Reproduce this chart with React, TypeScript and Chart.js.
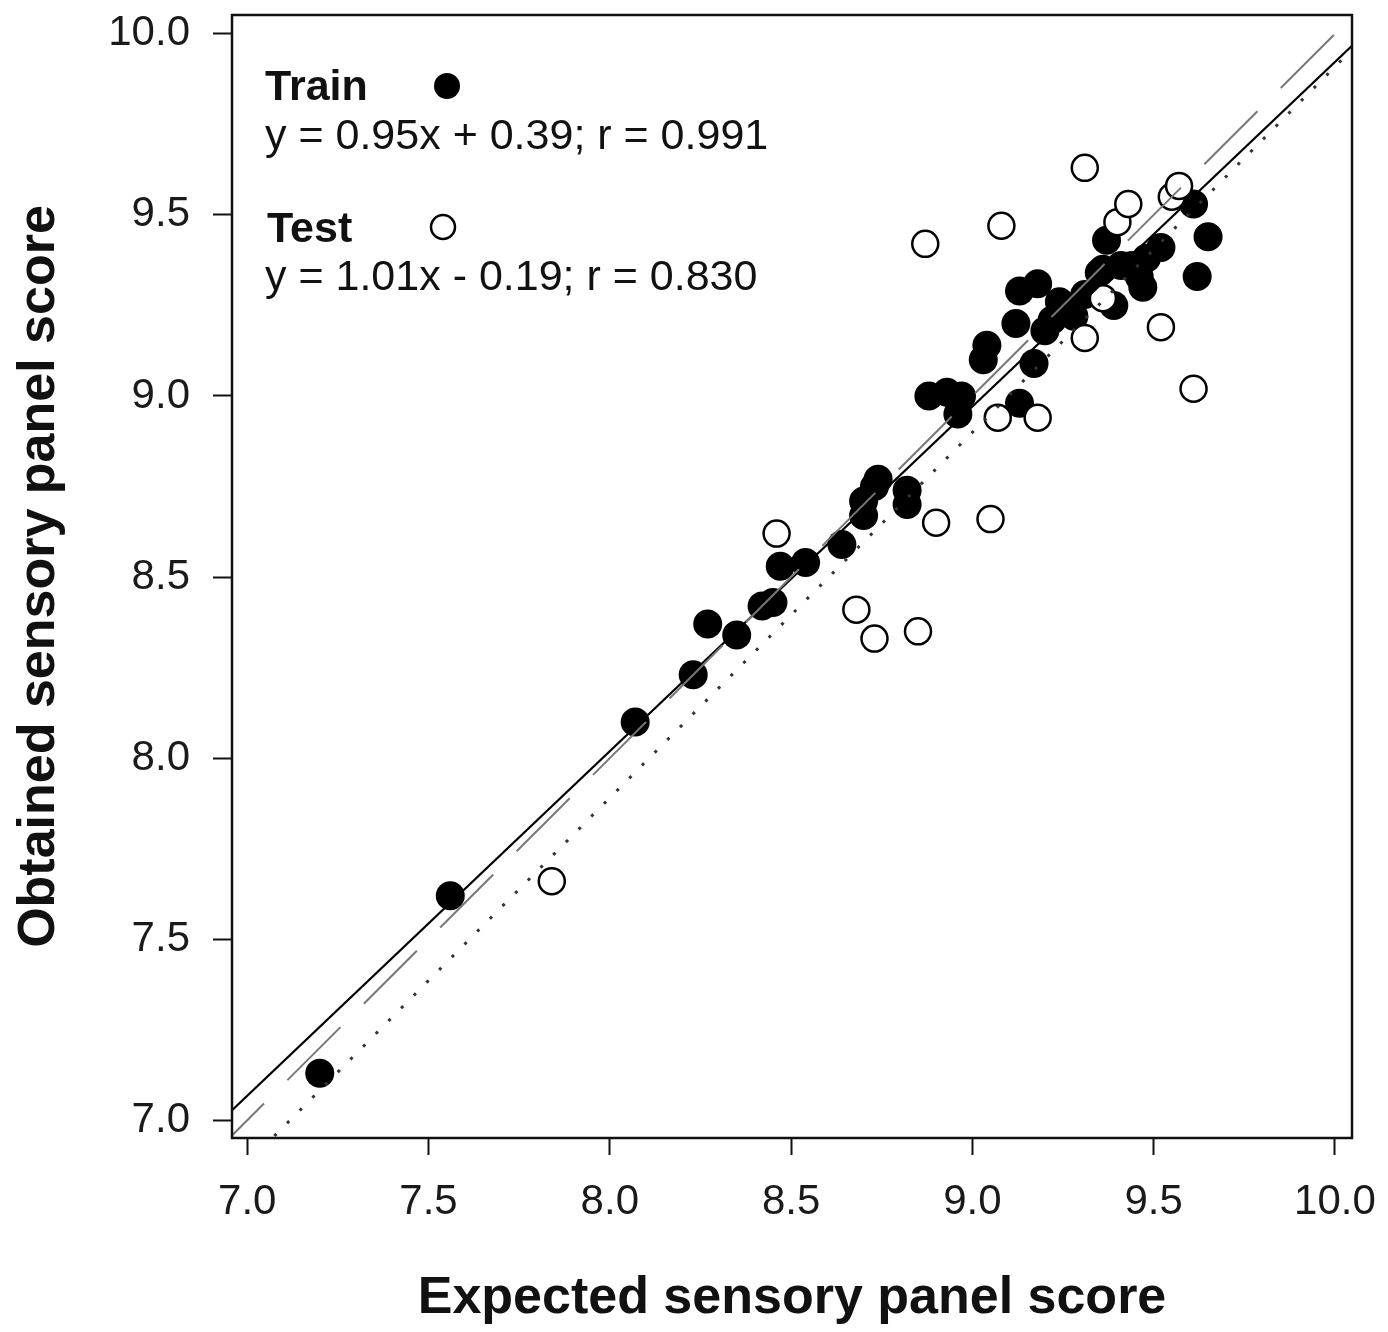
import React, { useEffect, useRef } from "react";
import { Chart, registerables } from "chart.js";

Chart.register(...registerables);

// ---- data ----
const trainX = [7.20, 7.56, 8.07, 8.23, 8.27, 8.35, 8.42, 8.45, 8.47, 8.54, 8.64, 8.70, 8.70, 8.73, 8.74, 8.82, 8.82, 8.88, 8.93, 8.97, 8.96, 9.03, 9.04, 9.13, 9.17, 9.12, 9.13, 9.18, 9.20, 9.22, 9.24, 9.26, 9.28, 9.31, 9.35, 9.36, 9.37, 9.39, 9.41, 9.44, 9.47, 9.46, 9.48, 9.52, 9.61, 9.65, 9.62];
const trainY = [7.13, 7.62, 8.10, 8.23, 8.37, 8.34, 8.42, 8.43, 8.53, 8.54, 8.59, 8.67, 8.71, 8.75, 8.77, 8.74, 8.70, 9.00, 9.01, 9.00, 8.95, 9.10, 9.14, 8.98, 9.09, 9.20, 9.29, 9.31, 9.18, 9.21, 9.26, 9.23, 9.22, 9.28, 9.34, 9.35, 9.43, 9.25, 9.36, 9.36, 9.30, 9.33, 9.38, 9.41, 9.53, 9.44, 9.33];

const testX = [7.84, 8.46, 8.68, 8.73, 8.85, 8.90, 9.05, 8.87, 9.08, 9.07, 9.18, 9.31, 9.31, 9.36, 9.40, 9.43, 9.52, 9.55, 9.57, 9.61];
const testY = [7.66, 8.62, 8.41, 8.33, 8.35, 8.65, 8.66, 9.42, 9.47, 8.94, 8.94, 9.63, 9.16, 9.27, 9.48, 9.53, 9.19, 9.55, 9.58, 9.02];

// fitted / reference lines (end points)
const trainFitX = [6.95, 10.05];
const trainFitY = [7.02, 9.97];
const identityX = [6.9, 10.1];
const identityY = [6.9, 10.1];
const testFitX = [6.9, 10.1];
const testFitY = [6.78, 10.01];

const xTicks = [7.0, 7.5, 8.0, 8.5, 9.0, 9.5, 10.0];
const yTicks = [7.0, 7.5, 8.0, 8.5, 9.0, 9.5, 10.0];
const xRange = [6.958, 10.047];
const yRange = [6.951, 10.052];

const legendNames = ["Train", "Test"];
const legendEquations = ["y = 0.95x + 0.39; r = 0.991", "y = 1.01x - 0.19; r = 0.830"];
const xTitle = "Expected sensory panel score";
const yTitle = "Obtained sensory panel score";

const FONT = "'Liberation Sans', Arial, Helvetica, sans-serif";

const toPoints = (xs: number[], ys: number[]) => xs.map((x, i) => ({ x, y: ys[i] }));

const framePlugin = {
  id: "frameAndLegend",
  afterDraw(chart: any) {
    const { ctx, chartArea } = chart;
    const { left, top, right, bottom } = chartArea;
    ctx.save();
    ctx.strokeStyle = "#111";
    ctx.lineWidth = 2.5;
    ctx.strokeRect(left, top, right - left, bottom - top);

    // legend / annotation block
    const tx = left + 33;
    ctx.fillStyle = "#111";
    ctx.textBaseline = "alphabetic";
    ctx.textAlign = "left";
    ctx.font = `bold 43px ${FONT}`;
    ctx.fillText(legendNames[0], tx, top + 85);
    ctx.font = `43px ${FONT}`;
    ctx.fillText(legendEquations[0], tx, top + 134);
    ctx.font = `bold 43px ${FONT}`;
    ctx.fillText(legendNames[1], tx + 2, top + 227);
    ctx.font = `43px ${FONT}`;
    ctx.fillText(legendEquations[1], tx, top + 275);

    // markers
    ctx.beginPath();
    ctx.arc(left + 215, top + 71, 13, 0, Math.PI * 2);
    ctx.fillStyle = "#000";
    ctx.fill();
    ctx.beginPath();
    ctx.arc(left + 211, top + 212, 12, 0, Math.PI * 2);
    ctx.fillStyle = "#fff";
    ctx.fill();
    ctx.lineWidth = 2.5;
    ctx.strokeStyle = "#000";
    ctx.stroke();
    ctx.restore();
  },
};

export default function App() {
  const ref = useRef<HTMLCanvasElement | null>(null);

  useEffect(() => {
    if (!ref.current) return;
    const chart = new Chart(ref.current, {
      type: "scatter",
      data: {
        datasets: [
          {
            label: "1:1",
            data: toPoints(identityX, identityY),
            showLine: true,
            pointRadius: 0,
            borderColor: "#777",
            borderWidth: 2,
            borderDash: [75, 33],
          },
          {
            label: "Test fit",
            data: toPoints(testFitX, testFitY),
            showLine: true,
            pointRadius: 0,
            borderColor: "#333",
            borderWidth: 3,
            borderDash: [3, 15],
          },
          {
            label: "Train fit",
            data: toPoints(trainFitX, trainFitY),
            showLine: true,
            pointRadius: 0,
            borderColor: "#000",
            borderWidth: 2.2,
          },
          {
            label: "Test",
            data: toPoints(testX, testY),
            pointRadius: 13,
            backgroundColor: "#fff",
            borderColor: "#000",
            borderWidth: 2.5,
          },
          {
            label: "Train",
            data: toPoints(trainX, trainY),
            pointRadius: 14.5,
            backgroundColor: "#000",
            borderColor: "#000",
            borderWidth: 0,
          },
        ],
      },
      options: {
        responsive: false,
        animation: false,
        events: [],
        layout: { autoPadding: false, padding: { top: 7, right: 28, bottom: 0, left: 0 } },
        plugins: {
          legend: { display: false },
          tooltip: { enabled: false },
        },
        scales: {
          x: {
            type: "linear",
            min: xRange[0],
            max: xRange[1],
            afterBuildTicks: (scale: any) => {
              scale.ticks = xTicks.map((v) => ({ value: v }));
            },
            afterFit: (scale: any) => {
              scale.height = 186;
              scale.paddingLeft = 0;
              scale.paddingRight = 0;
              scale.paddingTop = 0;
              scale.paddingBottom = 0;
            },
            border: { display: false },
            grid: {
              drawOnChartArea: false,
              drawTicks: true,
              tickLength: 17,
              tickColor: "#111",
              tickWidth: 2,
            },
            ticks: {
              padding: 22,
              color: "#1a1a1a",
              font: { family: FONT, size: 42 },
              maxRotation: 0,
              callback: (v: any) => Number(v).toFixed(1),
            },
            title: {
              display: true,
              text: xTitle,
              color: "#111",
              font: { family: FONT, size: 52, weight: "bold" },
              padding: { top: 0, bottom: -6 },
            },
          },
          y: {
            type: "linear",
            min: yRange[0],
            max: yRange[1],
            afterBuildTicks: (scale: any) => {
              scale.ticks = yTicks.map((v) => ({ value: v }));
            },
            afterFit: (scale: any) => {
              scale.width = 224;
              scale.paddingLeft = 0;
              scale.paddingRight = 0;
              scale.paddingTop = 0;
              scale.paddingBottom = 0;
            },
            border: { display: false },
            grid: {
              drawOnChartArea: false,
              drawTicks: true,
              tickLength: 19,
              tickColor: "#111",
              tickWidth: 2,
            },
            ticks: {
              padding: 23,
              color: "#1a1a1a",
              font: { family: FONT, size: 42 },
              callback: (v: any) => Number(v).toFixed(1),
            },
            title: {
              display: true,
              text: yTitle,
              color: "#111",
              font: { family: FONT, size: 52, weight: "bold" },
              padding: { top: 0, bottom: 0 },
            },
          },
        },
      },
      plugins: [framePlugin],
    });
    return () => chart.destroy();
  }, []);

  return (
    <canvas
      ref={ref}
      width={1372}
      height={1316}
      style={{ display: "block", width: "1372px", height: "1316px" }}
    />
  );
}
